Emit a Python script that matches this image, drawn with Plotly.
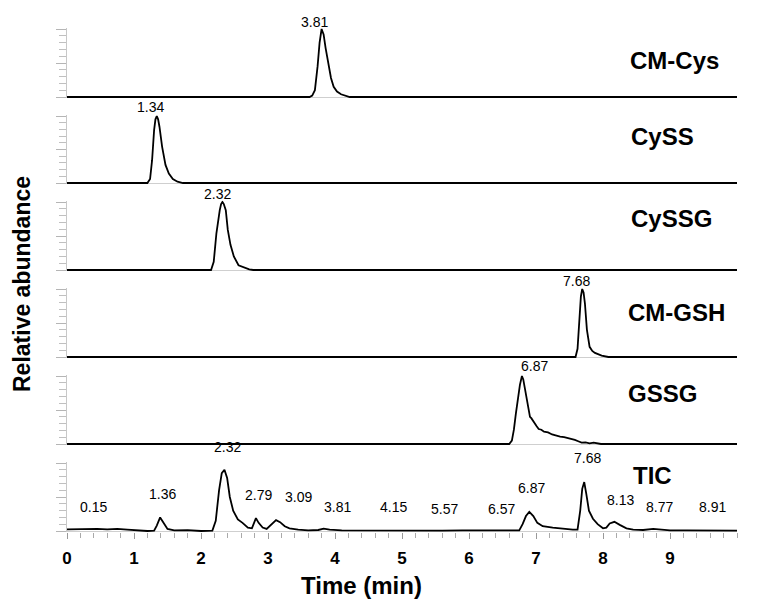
import plotly.graph_objects as go

# ---------------- data ----------------
cmcys_t = [0, 3.62, 3.66, 3.70, 3.74, 3.77, 3.80, 3.83, 3.86, 3.90, 3.94, 3.98, 4.03, 4.09, 4.16, 4.22, 10]
cmcys_v = [0, 0, 0.02, 0.10, 0.45, 0.80, 1.0, 0.92, 0.72, 0.48, 0.28, 0.15, 0.08, 0.04, 0.015, 0, 0]

cyss_t = [0, 1.20, 1.24, 1.27, 1.30, 1.32, 1.34, 1.36, 1.38, 1.42, 1.47, 1.52, 1.58, 1.65, 1.73, 10]
cyss_v = [0, 0, 0.06, 0.34, 0.79, 0.95, 1.0, 0.95, 0.84, 0.54, 0.27, 0.14, 0.06, 0.02, 0, 0]

cyssg_t = [0, 2.15, 2.19, 2.23, 2.28, 2.30, 2.32, 2.34, 2.37, 2.40, 2.44, 2.49, 2.56, 2.64, 2.72, 2.78, 10]
cyssg_v = [0, 0, 0.12, 0.54, 0.88, 0.97, 1.0, 0.97, 0.88, 0.59, 0.37, 0.20, 0.07, 0.035, 0.01, 0, 0]

cmgsh_t = [0, 7.59, 7.62, 7.64, 7.67, 7.69, 7.71, 7.73, 7.76, 7.80, 7.84, 7.88, 7.98, 8.08, 10]
cmgsh_v = [0, 0, 0.12, 0.50, 0.89, 1.0, 0.95, 0.79, 0.40, 0.15, 0.09, 0.06, 0.02, 0, 0]

gssg_t = [0, 6.60, 6.64, 6.67, 6.70, 6.72, 6.76, 6.79, 6.81, 6.83, 6.85, 6.87, 6.89, 6.91, 6.93,
          6.96, 6.99, 7.01, 7.04, 7.08, 7.12, 7.18, 7.24, 7.30, 7.36, 7.42, 7.48, 7.54, 7.58,
          7.63, 7.68, 7.74, 7.80, 7.86, 7.92, 7.97, 10]
gssg_v = [0, 0, 0.05, 0.21, 0.45, 0.60, 0.87, 1.0, 0.95, 0.84, 0.72, 0.60, 0.46, 0.40, 0.38,
          0.33, 0.28, 0.26, 0.22, 0.21, 0.18, 0.17, 0.14, 0.12, 0.11, 0.10, 0.085, 0.08, 0.06,
          0.04, 0.02, 0.025, 0.01, 0.02, 0.005, 0, 0]

tic_t = [0, 0.15, 0.3, 0.45, 0.6, 0.75, 0.9, 1.0, 1.1, 1.2, 1.30, 1.34, 1.39, 1.44, 1.50, 1.6,
         1.8, 2.0, 2.17, 2.22, 2.27, 2.31, 2.35, 2.39, 2.43, 2.48, 2.55, 2.62, 2.70, 2.76, 2.80,
         2.82, 2.86, 2.92, 2.98, 3.05, 3.12, 3.18, 3.25, 3.32, 3.45, 3.6, 3.75, 3.83, 3.92, 4.1,
         4.4, 4.7, 5.0, 5.3, 5.6, 5.9, 6.2, 6.5, 6.75, 6.80, 6.85, 6.90, 6.96, 7.02, 7.10, 7.25,
         7.40, 7.55, 7.62, 7.66, 7.69, 7.72, 7.75, 7.79, 7.85, 7.92, 8.00, 8.05, 8.10, 8.17, 8.25,
         8.35, 8.45, 8.6, 8.75, 8.85, 9.0, 9.25, 9.5, 9.75, 10]
tic_v = [0.025, 0.03, 0.028, 0.032, 0.025, 0.03, 0.02, 0.012, 0.008, 0.0, 0.005, 0.08, 0.20, 0.12,
         0.03, 0.01, 0.012, 0.0, 0.005, 0.15, 0.60, 0.85, 0.90, 0.78, 0.50, 0.30, 0.17, 0.12, 0.05,
         0.04, 0.16, 0.19, 0.12, 0.05, 0.03, 0.10, 0.16, 0.13, 0.07, 0.04, 0.02, 0.01, 0.015, 0.035,
         0.02, 0.01, 0.008, 0.012, 0.006, 0.01, 0.005, 0.009, 0.006, 0.01, 0.01, 0.10, 0.22, 0.28,
         0.22, 0.12, 0.07, 0.05, 0.03, 0.02, 0.02, 0.30, 0.62, 0.72, 0.55, 0.30, 0.18, 0.10, 0.04,
         0.05, 0.11, 0.135, 0.09, 0.04, 0.02, 0.015, 0.03, 0.02, 0.01, 0.008, 0.005, 0.006, 0.005]

panel_names = ["CM-Cys", "CySS", "CySSG", "CM-GSH", "GSSG", "TIC"]
panel_times = [cmcys_t, cyss_t, cyssg_t, cmgsh_t, gssg_t, tic_t]
panel_values = [cmcys_v, cyss_v, cyssg_v, cmgsh_v, gssg_v, tic_v]

# single-panel peak labels: text, time position, height
peak_text = ["3.81", "1.34", "2.32", "7.68", "6.87"]
peak_x = [3.70, 1.24, 2.24, 7.60, 6.98]
peak_y = [1.11, 1.13, 1.12, 1.12, 1.15]

# TIC labels
tic_text = ["0.15", "1.36", "2.32", "2.79", "3.09", "3.81", "4.15", "5.57", "6.57",
            "6.87", "7.68", "8.13", "8.77", "8.91"]
tic_lx = [0.39, 1.42, 2.40, 2.86, 3.46, 4.04, 4.87, 5.64, 6.48, 6.94, 7.77, 8.26, 8.85, 9.63]
tic_ly = [0.35, 0.54, 1.24, 0.53, 0.50, 0.35, 0.35, 0.32, 0.32, 0.63, 1.07, 0.46, 0.35, 0.35]

# panel name label positions (time, height)
name_x = [9.07, 8.89, 9.02, 9.10, 8.89, 8.74]
name_y = [0.54, 0.69, 0.76, 0.66, 0.74, 0.82]

x_ticks = list(range(10))

# ---------------- layout geometry (window pixels; page body has an 8px margin) ----------------
OFF = 8
WIN_W, WIN_H = 759, 599
W, H = WIN_W - OFF, WIN_H - OFF
plot_left, plot_right = 67, 737          # window px
plot_top, plot_bottom = 20, 539          # window px
ML = plot_left - OFF
MR = W - (plot_right - OFF)
MT = plot_top - OFF
MB = H - (plot_bottom - OFF)
PH = plot_bottom - plot_top
PW = plot_right - plot_left
panel_px = [(29, 97), (116, 183), (202, 270), (289, 357), (376, 444), (463, 531)]
pad = 0.02

FONT = "Liberation Sans, Arial, sans-serif"
fig = go.Figure()
layout = dict(
    width=W, height=H, margin=dict(l=ML, r=MR, t=MT, b=MB),
    plot_bgcolor="white", paper_bgcolor="white", showlegend=False,
    font=dict(family=FONT, color="black"),
)
annotations = []


def dfrac(v):
    return (v + pad) / (1 + 2 * pad)


for i in range(6):
    sfx = "" if i == 0 else str(i + 1)
    xa, ya = "x" + sfx, "y" + sfx
    T, B = panel_px[i]
    h = B - T
    top = T - pad * h
    bot = B + pad * h
    dom = [(plot_bottom - bot) / PH, (plot_bottom - top) / PH]
    fig.add_trace(go.Scatter(x=panel_times[i], y=panel_values[i], mode="lines",
                             line=dict(color="black", width=1.8),
                             xaxis=xa, yaxis=ya, hoverinfo="skip"))
    is_last = i == 5
    xax = dict(range=[0, 10], domain=[0, 1], anchor=ya, showgrid=False, zeroline=False,
               showline=False, fixedrange=True)
    if i > 0:
        xax["matches"] = "x"
    if is_last:
        xax.update(tickvals=x_ticks, ticks="outside", ticklen=6, tickcolor="#999",
                   tickwidth=1, showticklabels=True,
                   tickfont=dict(family=FONT, size=17, weight="bold", color="black"),
                   ticklabelstandoff=4,
                   minor=dict(dtick=0.2, tick0=0, ticks="outside", ticklen=5,
                              tickcolor="#aaa", tickwidth=1))
    else:
        xax.update(showticklabels=False, ticks="")
    yax = dict(range=[-pad, 1 + pad], domain=dom, anchor=xa, showgrid=False,
               zeroline=True, zerolinecolor="#cfcfcf", zerolinewidth=1,
               showline=True, linecolor="#c8c8c8", linewidth=1,
               tickvals=[0, 0.5, 1], ticks="outside", ticklen=10, tickcolor="#b5b5b5",
               showticklabels=False,
               minor=dict(dtick=0.1, tick0=0, ticks="outside", ticklen=7,
                          tickcolor="#c0c0c0", tickwidth=1))
    layout["xaxis" + sfx] = xax
    layout["yaxis" + sfx] = yax

    yd = ya + " domain"
    annotations.append(dict(x=name_x[i], y=dfrac(name_y[i]), xref=xa, yref=yd,
                            text="<b>" + panel_names[i] + "</b>", showarrow=False,
                            font=dict(size=24, family=FONT, color="black"),
                            xanchor="center", yanchor="middle"))
    if i < 5:
        annotations.append(dict(x=peak_x[i], y=dfrac(peak_y[i]), xref=xa, yref=yd,
                                text=peak_text[i], showarrow=False,
                                font=dict(size=14, family=FONT, color="black"),
                                xanchor="center", yanchor="middle"))
    else:
        for t, lx, ly in zip(tic_text, tic_lx, tic_ly):
            annotations.append(dict(x=lx, y=dfrac(ly), xref=xa, yref=yd, text=t,
                                    showarrow=False,
                                    font=dict(size=14, family=FONT, color="black"),
                                    xanchor="center", yanchor="middle"))

# axis titles
annotations.append(dict(x=(361 - plot_left) / PW, y=(plot_bottom - 585) / PH,
                        xref="paper", yref="paper", text="<b>Time (min)</b>",
                        showarrow=False, font=dict(size=24, family=FONT, color="black"),
                        xanchor="center", yanchor="middle"))
annotations.append(dict(x=(22 - plot_left) / PW, y=(plot_bottom - 284) / PH,
                        xref="paper", yref="paper", text="<b>Relative abundance</b>",
                        textangle=-90, showarrow=False,
                        font=dict(size=23, family=FONT, color="black"),
                        xanchor="center", yanchor="middle"))

layout["annotations"] = annotations
fig.update_layout(**layout)
fig.write_html("out.html")
